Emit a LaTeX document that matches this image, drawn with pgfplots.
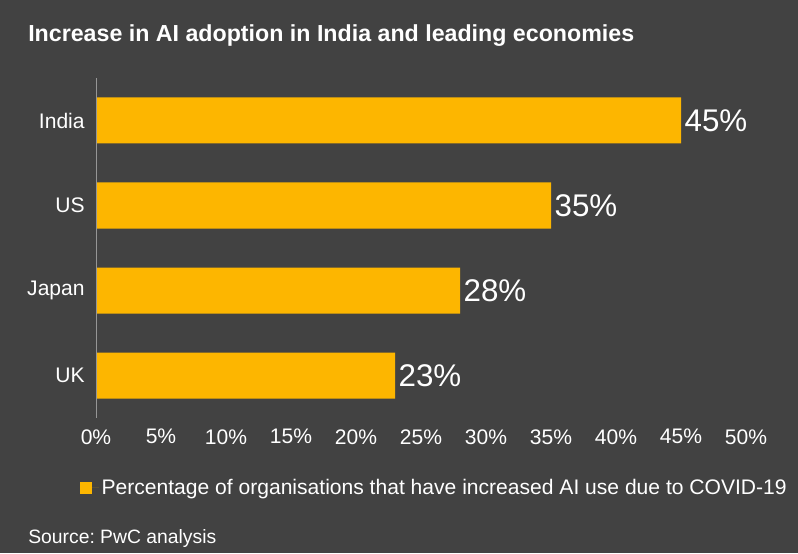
\documentclass[border=0pt]{standalone}
\usepackage{pgfplots}
\pgfplotsset{compat=1.18}
\usepackage{fontspec}
\setmainfont{Liberation Sans}
\frenchspacing
\definecolor{bgcol}{RGB}{66,66,66}
\definecolor{barcol}{RGB}{253,182,0}
\definecolor{axcol}{RGB}{150,150,150}
\begin{document}
\begin{tikzpicture}
\fill[bgcol] (-72pt,-101.25pt) rectangle (526.5pt,313.5pt);
\begin{axis}[
  at={(0,0)}, anchor=south west,
  scale only axis, width=487.5pt, height=255pt,
  xmin=0, xmax=50, ymin=-0.5, ymax=3.5,
  xtick={0,5,...,50},
  xticklabel={\pgfmathprintnumber{\tick}\%},
  ytick={0,1,2,3}, yticklabels={UK,Japan,US,India},
  /pgf/number format/assume math mode=true,
  major tick length=0pt,
  axis line style={draw=none},
  tick label style={text=white, font=\fontsize{15.8}{18}\selectfont},
  yticklabel style={xshift=-5pt},
  xticklabel style={yshift=-5pt},
  xbar, bar width=34.5pt,
  nodes near coords={\pgfmathprintnumber{\pgfplotspointmeta}\%},
  nodes near coords align=horizontal,
  every node near coord/.append style={text=white, font=\fontsize{23.5}{26}\selectfont, inner sep=2.5pt, anchor=west},
  point meta=explicit,
  legend style={at={(axis description cs:-0.0246,-0.205)}, anchor=west, draw=none, fill=none, text=white, font=\fontsize{15.8}{18}\selectfont, inner sep=0pt},
  legend image code/.code={\fill[barcol] (0pt,-4.5pt) rectangle (9pt,4.5pt); \path (0pt,0pt) -- (14pt,0pt);},
]
\addplot[fill=barcol, draw=none] coordinates {(23,0) [23] (28,1) [28] (35,2) [35] (45,3) [45]};
\addlegendentry{Percentage of organisations that have increased AI use due to COVID-19}
\draw[axcol, line width=0.8pt] (rel axis cs:0,0) -- (rel axis cs:0,1);
\end{axis}
\node[anchor=west, text=white, font=\fontsize{17.4}{20}\selectfont\bfseries, inner sep=0pt] at (-51pt,286.5pt) {Increase in AI adoption in India and leading economies};
\node[anchor=west, text=white, font=\fontsize{14.5}{17}\selectfont, inner sep=0pt] at (-51pt,-90.5pt) {Source: PwC analysis};
\end{tikzpicture}
\end{document}
